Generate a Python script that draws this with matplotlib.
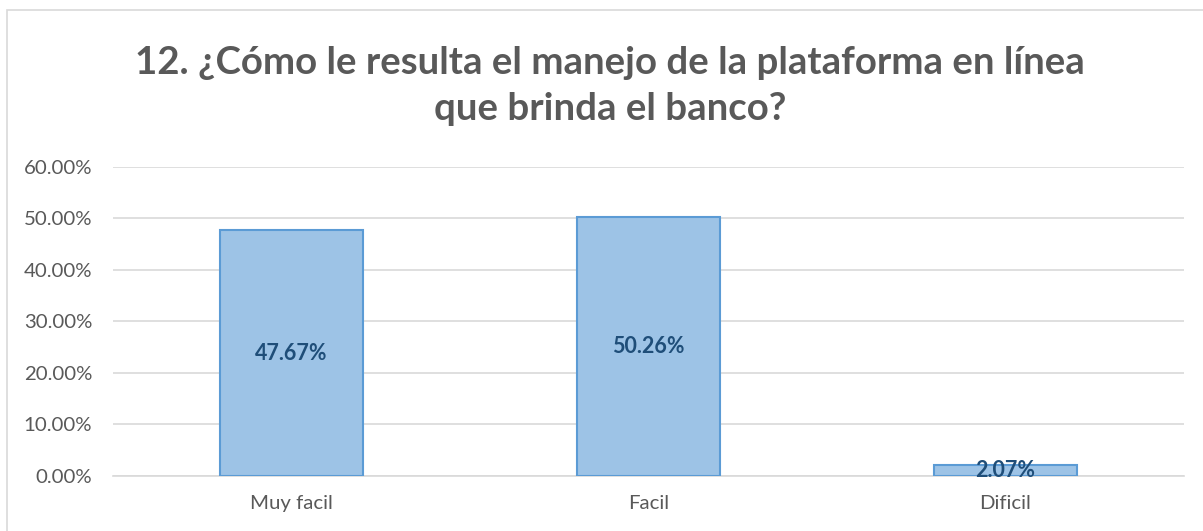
import matplotlib.pyplot as plt
from matplotlib.patches import Rectangle
from matplotlib.ticker import FuncFormatter

categories = ['Muy facil', 'Facil', 'Dificil']
values = [47.67, 50.26, 2.07]
yticks = [0, 10, 20, 30, 40, 50, 60]

plt.rcParams['font.family'] = ['Lato', 'DejaVu Sans']

fig = plt.figure(figsize=(12.03, 5.31), dpi=100)
fig.patches.append(Rectangle((7/1203, -0.1), 1.2, 1.1 - 10/531, transform=fig.transFigure,
                             fill=False, edgecolor='#d9d9d9', linewidth=1.2))
ax = fig.add_axes([113/1203, 0.1036, 0.8903, 0.5819])

x = range(len(categories))
ax.bar(x, values, width=0.4, color='#9dc3e6', edgecolor='#5b9bd5', linewidth=1.5, zorder=3)
for i, v in enumerate(values):
    ax.text(i, v/2, '%.2f%%' % v, ha='center', va='center', fontsize=15.5,
            fontweight='bold', color='#1f4e79', zorder=4)

ax.set_xlim(-0.5, len(categories) - 0.5)
ax.set_ylim(0, 60)
ax.set_yticks(yticks)
ax.yaxis.set_major_formatter(FuncFormatter(lambda v, p: '%.2f%%' % v))
ax.set_xticks(list(x))
ax.set_xticklabels(categories)
ax.tick_params(axis='both', length=0, labelsize=14.7, labelcolor='#595959')
ax.tick_params(axis='y', pad=15)
ax.tick_params(axis='x', pad=14)
ax.grid(axis='y', color='#d9d9d9', linewidth=1.2, zorder=0)
for s in ['top', 'right', 'left']:
    ax.spines[s].set_visible(False)
ax.spines['bottom'].set_color('#d9d9d9')
ax.spines['bottom'].set_linewidth(1.2)

fig.text(0.507, 0.838, '12. ¿Cómo le resulta el manejo de la plataforma en línea\nque brinda el banco?',
         ha='center', va='center', fontsize=27.6, fontweight='bold', color='#595959', linespacing=1.45)

fig.savefig('out.png', dpi=100)
